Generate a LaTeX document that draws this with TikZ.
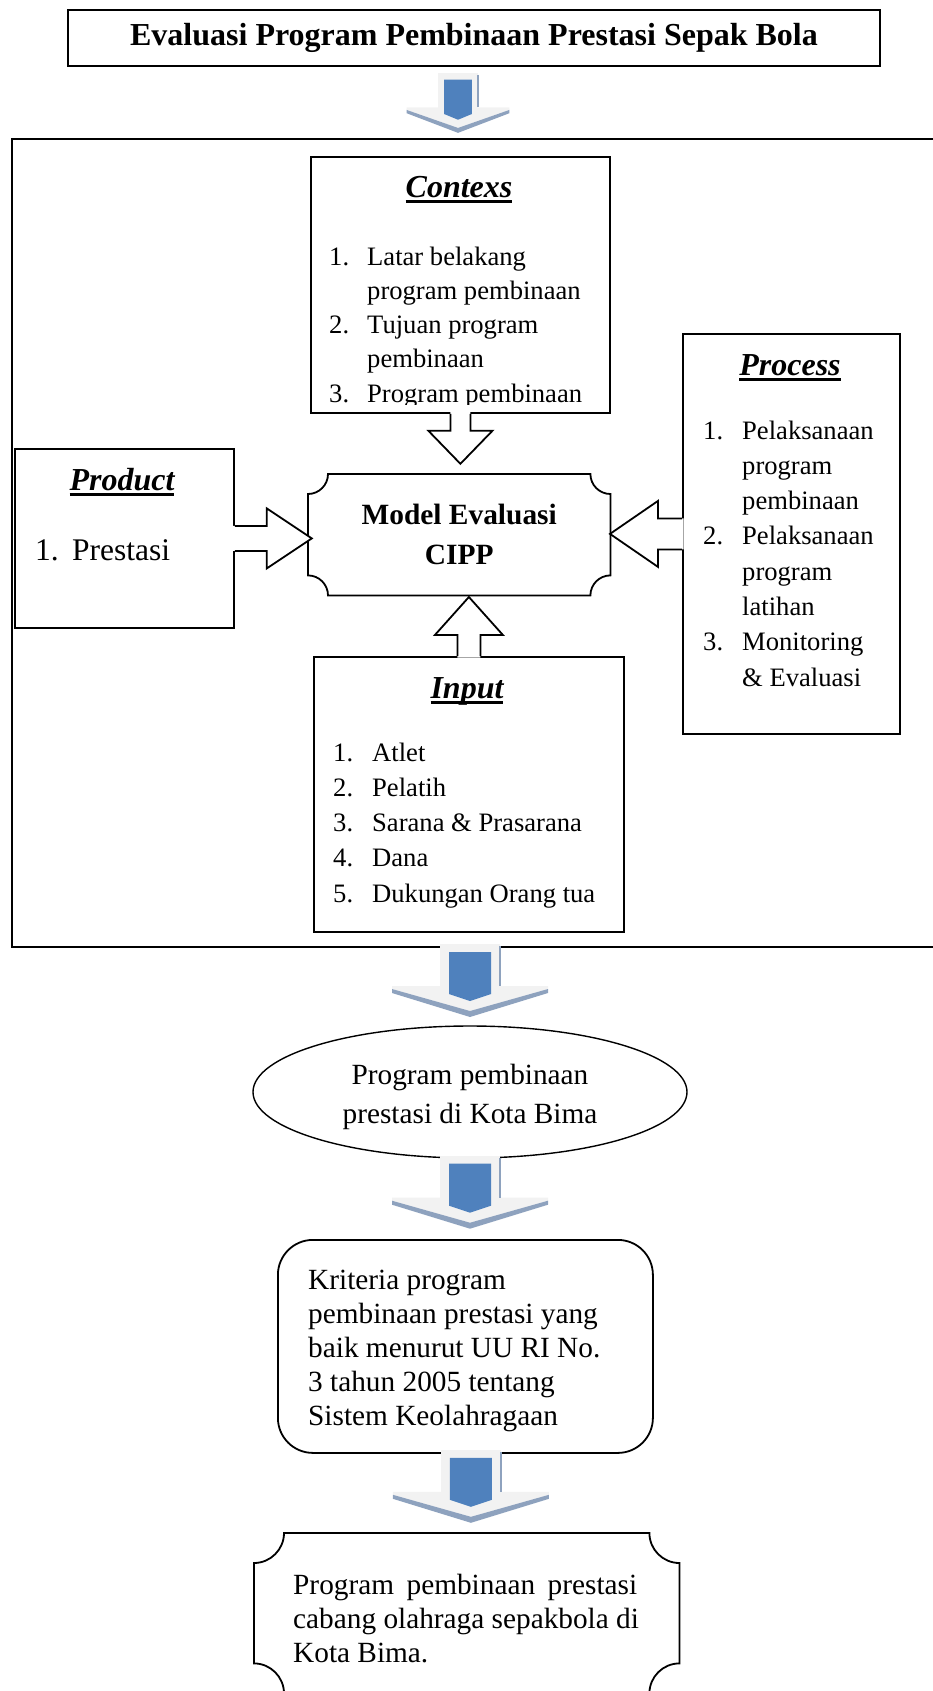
\documentclass[tikz,border=0pt]{standalone}
\usepackage{fontspec}
\setmainfont{Liberation Serif}
\usetikzlibrary{calc,shapes.geometric}
\definecolor{arrblue}{HTML}{4F81BD}
\definecolor{arrlight}{HTML}{F2F2F2}
\definecolor{arrshade}{HTML}{8EA2BE}
\newcommand\titlefont{\fontsize{32}{38}\selectfont\bfseries}
\newcommand\headfont{\fontsize{32}{38}\selectfont\bfseries\itshape}
\newcommand\listfont[1]{\fontsize{26.6}{#1}\selectfont}
\newcommand\bodyfont[1]{\fontsize{29.3}{#1}\selectfont}
\newcommand\thickul[1]{\setbox0\hbox{#1}\rlap{\rule[-6pt]{\wd0}{2.8pt}}\box0}
\newcommand\lines[1]{\begin{tabular}[t]{@{}l@{}}#1\end{tabular}}
\newcommand\num[2]{\makebox[#1][l]{#2}}
\newcommand\hollowarrow[6]{%
  \begin{scope}[shift={#1}, rotate=#2]
    \fill[white] (-#3,-1.6) -- (-#3,#4) -- (-#5,#4) -- (0,#4+#6) -- (#5,#4) -- (#3,#4) -- (#3,-1.6) -- cycle;
    \draw[hollow] (-#3,0) -- (-#3,#4) -- (-#5,#4) -- (0,#4+#6) -- (#5,#4) -- (#3,#4) -- (#3,0);
  \end{scope}}
\newcommand\plaque[3]{%
  \draw[line width=#3]
    ($(#1.north west)+(#2,0)$) -- ($(#1.north east)+(-#2,0)$)
    .. controls +(0,0.55*#2) and +(-0.55*#2,0) .. ($(#1.north east)+(0,#2)$)
    -- ($(#1.south east)+(0,-#2)$)
    .. controls +(-0.55*#2,0) and +(0,-0.55*#2) .. ($(#1.south east)+(-#2,0)$)
    -- ($(#1.south west)+(#2,0)$)
    .. controls +(0,-0.55*#2) and +(0.55*#2,0) .. ($(#1.south west)+(0,-#2)$)
    -- ($(#1.north west)+(0,#2)$)
    .. controls +(0.55*#2,0) and +(0,0.55*#2) .. ($(#1.north west)+(#2,0)$) -- cycle;}
\tikzset{
  downblock/.pic={
    \fill[arrlight] (-30,0) rectangle (30,46);
    \fill[arrlight] (-78,42) -- (78,42) -- (78,45) -- (0,67) -- (-78,45) -- cycle;
    \fill[arrshade] (-78,45) -- (0,67) -- (78,45) -- (78,49) -- (0,73) -- (-78,49) -- cycle;
    \draw[arrshade, line width=1.6pt] (30,2) -- (30,42);
    \fill[arrblue] (-21,8) -- (21,8) -- (21,50) -- (0,57) -- (-21,50) -- cycle;
  }}
\begin{document}
\begin{tikzpicture}[x=1pt,y=-1pt,
  box/.style={draw, line width=1.8pt, inner sep=0pt, anchor=north west, fill=white},
  txt/.style={inner sep=0pt, anchor=base west},
  txtc/.style={inner sep=0pt, anchor=base},
  hollow/.style={line width=1.8pt, line join=miter}]
\useasboundingbox (0,0) rectangle (932,1691);

% frame
\node[draw, line width=1.8pt, inner sep=0pt, anchor=north west,
      minimum width=960pt, minimum height=808pt] (frame) at (11,138) {};

% title
\node[box, line width=2pt, minimum width=812pt, minimum height=56pt, font=\titlefont]
  (title) at (67,9) {Evaluasi Program Pembinaan Prestasi Sepak Bola};

% Contexs
\node[box, minimum width=299pt, minimum height=256pt] (contexs) at (310,156) {};
\node[txtc, font=\headfont] (contexshead) at (459,197) {\thickul{Contexs}};
\begin{scope}
  \clip (contexs.north west) rectangle ($(contexs.south east)+(0,-9)$);
  \node[txt, font=\listfont{34.3}] (contexslist) at (329,265) {\lines{%
    \num{38pt}{1.}Latar belakang\\
    \hspace{38pt}program pembinaan\\
    \num{38pt}{2.}Tujuan program\\
    \hspace{38pt}pembinaan\\
    \num{38pt}{3.}Program pembinaan}};
\end{scope}

% Process
\node[box, minimum width=217pt, minimum height=400pt] (process) at (682,333) {};
\node[txtc, font=\headfont] (processhead) at (790,375) {\thickul{Process}};
\node[txt, font=\listfont{35.3}] (processlist) at (703,439) {\lines{%
    \num{39pt}{1.}Pelaksanaan\\
    \hspace{39pt}program\\
    \hspace{39pt}pembinaan\\
    \num{39pt}{2.}Pelaksanaan\\
    \hspace{39pt}program\\
    \hspace{39pt}latihan\\
    \num{39pt}{3.}Monitoring\\
    \hspace{39pt}\& Evaluasi}};

% Product
\node[box, minimum width=219pt, minimum height=179pt] (product) at (14,448) {};
\node[txtc, font=\headfont] (producthead) at (122,490) {\thickul{Product}};
\node[txt, font=\fontsize{31.5}{38}\selectfont] (productlist) at (35,560) {\num{37pt}{1.}Prestasi};

% Input
\node[box, minimum width=310pt, minimum height=275pt] (input) at (313,656) {};
\node[txtc, font=\headfont] (inputhead) at (467,698) {\thickul{Input}};
\node[txt, font=\listfont{35.3}] (inputlist) at (333,761) {\lines{%
    \num{39pt}{1.}Atlet\\
    \num{39pt}{2.}Pelatih\\
    \num{39pt}{3.}Sarana \& Prasarana\\
    \num{39pt}{4.}Dana\\
    \num{39pt}{5.}Dukungan Orang tua}};

% CIPP
\node[inner sep=0pt, anchor=north west, minimum width=302pt, minimum height=121pt,
      align=center, font=\fontsize{29.4}{40}\selectfont\bfseries] (cipp) at (308,474)
  {Model Evaluasi\\CIPP};
\plaque{cipp}{20}{1.8pt}

% hollow arrows into CIPP
\hollowarrow{(contexs.south)}{0}{10}{17}{32}{33}
\hollowarrow{(product.east)}{90}{12.5}{32}{30}{45}
\hollowarrow{(process.west)}{-90}{15.5}{24}{33}{48}
\hollowarrow{(input.north)}{180}{11.5}{21}{34}{38}

% oval
\node[draw, ellipse, line width=1.4pt, inner sep=0pt, minimum width=434pt, minimum height=132pt]
  (oval) at (470,1092) {};
\node[txtc, font=\bodyfont{39}] (ovaltext) at (470,1084)
  {\begin{tabular}[t]{@{}c@{}}Program pembinaan\\prestasi di Kota Bima\end{tabular}};

% criteria
\node[box, rounded corners=35pt, minimum width=375pt, minimum height=213pt] (crit) at (277,1239) {};
\node[txt, font=\bodyfont{34}] (crittext) at (308,1289) {\lines{%
    Kriteria program\\
    pembinaan prestasi yang\\
    baik menurut UU RI No.\\
    3 tahun 2005 tentang\\
    Sistem Keolahragaan}};

% final
\node[inner sep=0pt, anchor=north west, minimum width=425pt, minimum height=160pt] (final) at (254,1533) {};
\plaque{final}{30}{1.8pt}
\node[txt, font=\bodyfont{34}] (finaltext) at (293,1594) {\lines{%
    \makebox[344pt][s]{Program pembinaan prestasi}\\
    cabang olahraga sepakbola di\\
    Kota Bima.}};

% 3D block arrows
\pic[xscale=0.66, yscale=0.82] (a1) at (458,73) {downblock};
\pic (a2) at (470,944) {downblock};
\pic (a3) at ($(oval.south)+(0,-3)$) {downblock};
\pic (a4) at ($(crit.south)+(5.5,-4)$) {downblock};
\end{tikzpicture}
\end{document}
